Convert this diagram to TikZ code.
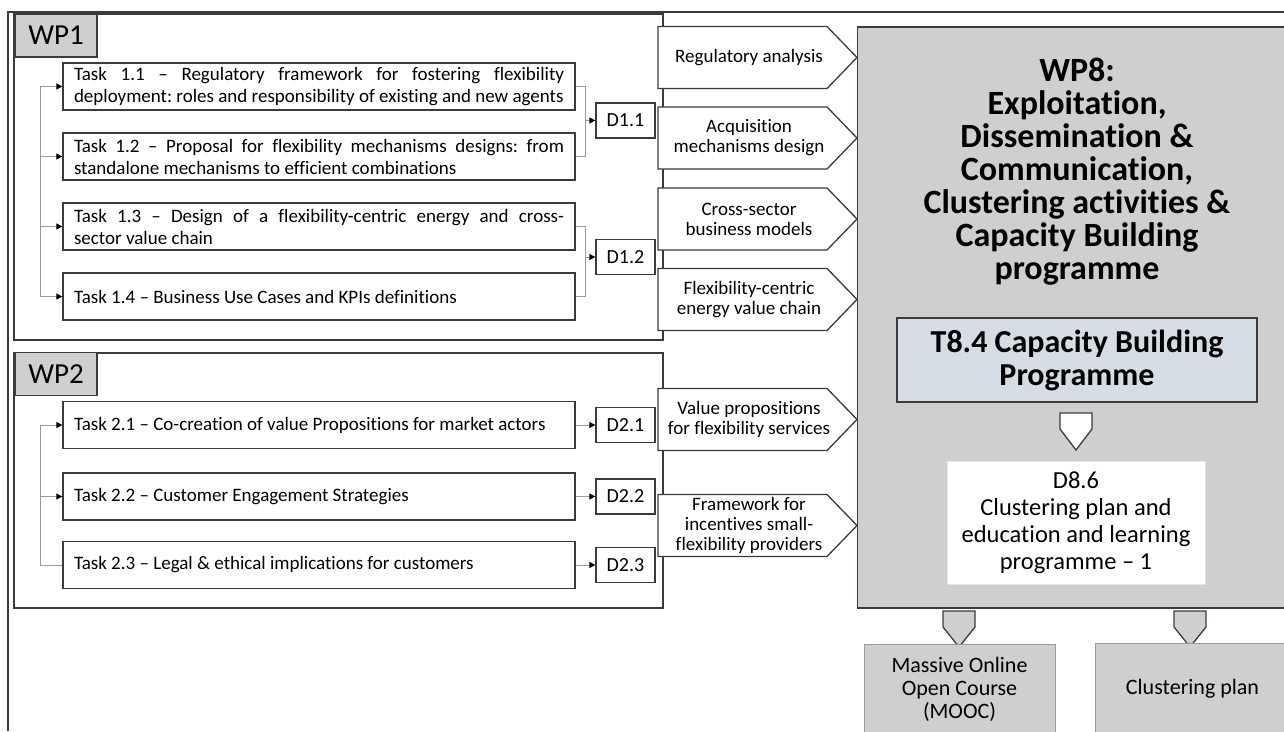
\documentclass[tikz,border=0pt]{standalone}
\usepackage{fontspec}
\setmainfont{Carlito}[Ligatures={NoCommon}]
\usetikzlibrary{arrows.meta}
\frenchspacing
\definecolor{boxgray}{HTML}{D0CECE}
\definecolor{bluegray}{HTML}{D6DCE4}
\definecolor{edge}{HTML}{3B3B3B}
\definecolor{linkc}{HTML}{9A9A9A}
\tikzset{
 frame/.style={draw=edge, line width=1.3pt, minimum width=649pt, inner sep=0pt},
 wplabel/.style={draw=edge, line width=1.3pt, fill=boxgray, minimum width=82pt, minimum height=43pt, inner sep=0pt, font=\fontsize{29}{30}\selectfont},
 task/.style={draw=edge, line width=1.3pt, fill=white, text width=490pt, inner xsep=11pt, inner ysep=0pt, minimum height=47pt, align=justify, font=\fontsize{19}{22}\selectfont},
 deliv/.style={draw=edge, line width=1.3pt, fill=white, minimum width=59pt, minimum height=35pt, inner sep=0pt, font=\fontsize{20}{22}\selectfont},
 link/.style={draw=linkc, line width=1pt},
 tip/.style={-{Triangle[length=6pt,width=6pt,color=black]}},
 plabel/.style={align=center, inner sep=0pt, font=\fontsize{19}{20}\selectfont},
 pent/.style={draw=edge, line width=1.3pt, fill=white},
 bigbox/.style={draw=edge, line width=1.3pt, fill=boxgray, inner sep=0pt},
 outbox/.style={draw=linkc, line width=1pt, fill=boxgray, inner sep=0pt, align=center, font=\fontsize{22}{23}\selectfont},
 darrowwhite/.style={draw=edge, line width=1.3pt, fill=white},
 darrowgray/.style={draw=edge, line width=1.3pt, fill=boxgray},
}
\begin{document}
\begin{tikzpicture}[x=1pt,y=-1pt]
\useasboundingbox (0,0) rectangle (1284,731);
\clip (0,0) rectangle (1284,731);
% outer frame lines
\coordinate (ob) at (8,731);
\coordinate (otl) at (8,12);
\coordinate (otr) at (1290,12);
\draw[edge, line width=1.3pt] (ob) -- (otl) -- (otr);

% WP frames
\node[frame, minimum height=326pt] (wp1f) at (338.5,177) {};
\node[frame, minimum height=255pt] (wp2f) at (338.5,480.5) {};
\node[wplabel] (wp1) at (56,35.5) {WP1};
\node[wplabel] (wp2) at (56,374) {WP2};

% WP1 tasks
\node[task] (t11) at (319,86.5) {Task 1.1 -- Regulatory framework for fostering flexibility\linebreak deployment: roles and responsibility of existing and new agents};
\node[task] (t12) at (319,156.5) {Task 1.2 -- Proposal for flexibility mechanisms designs: from\linebreak standalone mechanisms to efficient combinations};
\node[task] (t13) at (319,226.5) {Task 1.3 -- Design of a flexibility-centric energy and cross-\linebreak sector value chain};
\node[task] (t14) at (319,296.5) {Task 1.4 -- Business Use Cases and KPIs definitions};
\node[deliv] (d11) at (625.5,120.5) {D1.1};
\node[deliv] (d12) at (625.5,257) {D1.2};

% WP2 tasks
\node[task] (t21) at (319,425) {Task 2.1 -- Co-creation of value Propositions for market actors};
\node[task] (t22) at (319,496.5) {Task 2.2 -- Customer Engagement Strategies};
\node[task] (t23) at (319,565) {Task 2.3 -- Legal \& ethical implications for customers};
\node[deliv] (d21) at (625.5,425) {D2.1};
\node[deliv] (d22) at (625.5,496.5) {D2.2};
\node[deliv] (d23) at (625.5,565) {D2.3};

% left buses
\coordinate (bus) at (40,0);
\draw[link] (t11.west -| bus) -- (t14.west -| bus);
\draw[link,tip] (t11.west -| bus) -- (t11.west);
\draw[link,tip] (t12.west -| bus) -- (t12.west);
\draw[link,tip] (t13.west -| bus) -- (t13.west);
\draw[link,tip] (t14.west -| bus) -- (t14.west);
\draw[link] (t21.west -| bus) -- (t23.west -| bus);
\draw[link,tip] (t21.west -| bus) -- (t21.west);
\draw[link,tip] (t22.west -| bus) -- (t22.west);
\draw[link] (t23.west -| bus) -- (t23.west);

% right brackets
\coordinate (br) at (585,0);
\draw[link] (t11.east) -- (t11.east -| br) -- (t12.east -| br) -- (t12.east);
\draw[link,tip] (d11.west -| br) -- (d11.west);
\draw[link] (t13.east) -- (t13.east -| br) -- (t14.east -| br) -- (t14.east);
\draw[link,tip] (d12.west -| br) -- (d12.west);
\draw[link,tip] (t21.east) -- (d21.west);
\draw[link,tip] (t22.east) -- (d22.west);
\draw[link,tip] (t23.east) -- (d23.west);

% pentagons
\foreach \yc in {57.5,138,219,299.5,419.5,525.5}{
  \draw[pent] (658,\yc-31) -- (827,\yc-31) -- (857,\yc) -- (827,\yc+31) -- (658,\yc+31) -- cycle;
}
\node[plabel] (p1) at (749,57.5) {Regulatory analysis};
\node[plabel] (p2) at (749,138) {Acquisition\\mechanisms design};
\node[plabel] (p3) at (749,219) {Cross-sector\\business models};
\node[plabel] (p4) at (749,299.5) {Flexibility-centric\\energy value chain};
\node[plabel] (p5) at (749,419.5) {Value propositions\\for flexibility services};
\node[plabel] (p6) at (749,525.5) {Framework for\\incentives small-\\flexibility providers};

% WP8
\node[bigbox, minimum width=433pt, minimum height=581pt] (wp8) at (1074,317.5) {};
\node[align=center, inner sep=0pt, font=\bfseries\fontsize{34}{33}\selectfont] (wp8t) at (1077,172) {WP8:\\Exploitation,\\Dissemination \&\\Communication,\\Clustering activities \&\\Capacity Building\\programme};
\node[draw=edge, line width=1.3pt, fill=bluegray, minimum width=360pt, minimum height=84pt, align=center, inner sep=0pt, font=\bfseries\fontsize{32}{33}\selectfont] (t84) at (1077,360) {T8.4 Capacity Building\\Programme};
\draw[darrowwhite] (1060,413) -- (1092,413) -- (1092,429) -- (1076,450) -- (1060,429) -- cycle;
\node[fill=white, draw=white!90!black, minimum width=258pt, minimum height=123pt, align=center, inner sep=0pt, font=\fontsize{24.5}{27}\selectfont] (d86) at (1076,522.5) {D8.6\\Clustering plan and\\education and learning\\programme -- 1};

% outputs
\draw[darrowgray] (943,611) -- (975,611) -- (975,627) -- (959,647) -- (943,627) -- cycle;
\draw[darrowgray] (1174,611) -- (1206,611) -- (1206,627) -- (1190,647) -- (1174,627) -- cycle;
\node[outbox, minimum width=191pt, minimum height=90pt] (mooc) at (959.5,689) {Massive Online\\Open Course\\(MOOC)};
\node[outbox, minimum width=195pt, minimum height=92pt] (clp) at (1192.5,689) {Clustering plan};
\end{tikzpicture}
\end{document}
